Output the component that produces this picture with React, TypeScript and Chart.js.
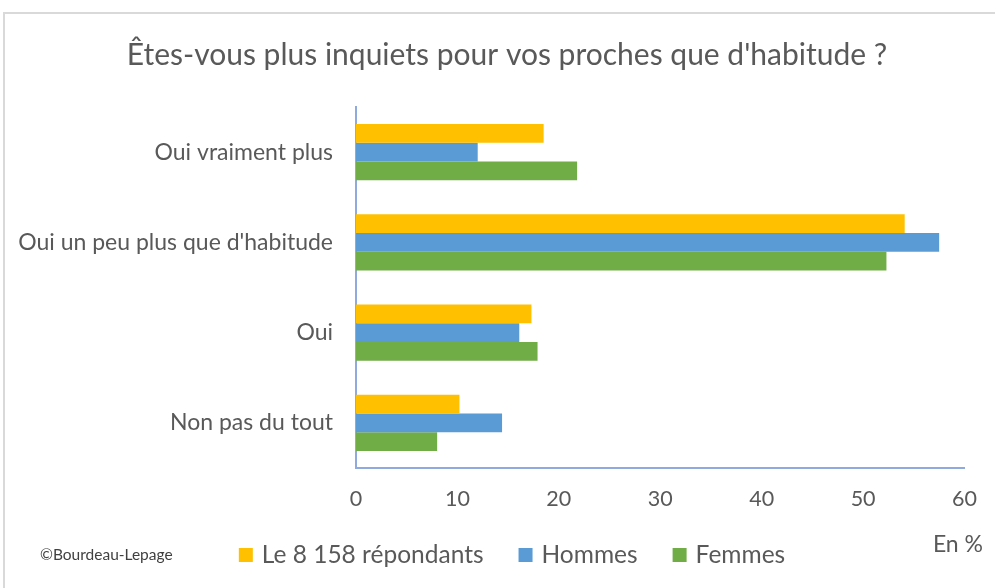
import React, { useEffect, useRef } from "react";
import { Chart, registerables } from "chart.js";

Chart.register(...registerables);

const TITLE = "Êtes-vous plus inquiets pour vos proches que d'habitude ?";
const categories = [
  "Oui vraiment plus",
  "Oui un peu plus que d'habitude",
  "Oui",
  "Non pas du tout",
];
const seriesNames = ["Le 8 158 répondants", "Hommes", "Femmes"];
const totalValues = [18.5, 54.1, 17.3, 10.2];
const hommesValues = [12.0, 57.5, 16.1, 14.4];
const femmesValues = [21.8, 52.3, 17.9, 8.0];
const seriesColors = ["#FFC000", "#5B9BD5", "#70AD47"];
const xMin = 0;
const xMax = 60;
const xStep = 10;
const UNIT = "En %";
const CREDIT = "©Bourdeau-Lepage";

const FONT = "Lato, 'Open Sans', sans-serif";
const TEXT = "#595959";
const AXIS = "#8FAADC";

const decor = {
  id: "decor",
  beforeDraw(chart: any) {
    const ctx = chart.ctx;
    ctx.save();
    ctx.strokeStyle = "#D9D9D9";
    ctx.lineWidth = 2;
    ctx.strokeRect(4, 13, 1200, 1200);
    ctx.restore();
  },
  afterDraw(chart: any) {
    const ctx = chart.ctx;
    ctx.save();
    // title
    ctx.fillStyle = TEXT;
    ctx.font = `30px ${FONT}`;
    ctx.textAlign = "center";
    ctx.textBaseline = "middle";
    ctx.fillText(TITLE, 507, 55);

    // legend
    ctx.font = `24.5px ${FONT}`;
    const box = 14;
    const gapBox = 9;
    const gapItem = 35;
    const ds = chart.data.datasets;
    const widths = ds.map((d: any) => box + gapBox + ctx.measureText(d.label).width);
    const total = widths.reduce((a: number, b: number) => a + b, 0) + gapItem * (ds.length - 1);
    let x = 512 - total / 2;
    const ly = 555;
    ctx.textAlign = "left";
    ds.forEach((d: any, i: number) => {
      ctx.fillStyle = d.backgroundColor;
      ctx.fillRect(x, ly - box / 2, box, box);
      ctx.fillStyle = TEXT;
      ctx.fillText(d.label, x + box + gapBox, ly);
      x += widths[i] + gapItem;
    });

    // unit
    ctx.font = `23px ${FONT}`;
    ctx.textAlign = "right";
    ctx.fillText(UNIT, 983, 545);

    // credit
    ctx.font = `15.5px ${FONT}`;
    ctx.fillStyle = "#404040";
    ctx.textAlign = "left";
    ctx.fillText(CREDIT, 40, 555);
    ctx.restore();
  },
};

export default function App() {
  const ref = useRef<HTMLCanvasElement>(null);
  useEffect(() => {
    document.body.style.margin = "0";
    const canvas = ref.current!;
    const valuesList = [totalValues, hommesValues, femmesValues];
    const chart = new Chart(canvas, {
      type: "bar",
      data: {
        labels: categories,
        datasets: seriesNames.map((name, i) => ({
          label: name,
          data: valuesList[i],
          backgroundColor: seriesColors[i],
          borderWidth: 0,
          categoryPercentage: 0.625,
          barPercentage: 1,
        })),
      },
      options: {
        indexAxis: "y",
        responsive: false,
        animation: false,
        devicePixelRatio: 1,
        layout: { padding: { top: 107, right: 29, bottom: 70, left: 0 } },
        plugins: {
          legend: { display: false },
          title: { display: false },
          tooltip: { enabled: false },
        },
        scales: {
          x: {
            min: xMin,
            max: xMax,
            grid: { display: false, drawTicks: false },
            border: { display: true, color: AXIS, width: 2 },
            ticks: {
              stepSize: xStep,
              color: TEXT,
              font: { family: FONT, size: 21.5 },
              padding: 18,
            },
            afterFit: (s: any) => {
              s.height = 50;
            },
          },
          y: {
            grid: { display: false, drawTicks: false },
            border: { display: true, color: AXIS, width: 2 },
            ticks: {
              color: TEXT,
              font: { family: FONT, size: 23 },
              padding: 23,
            },
            afterFit: (s: any) => {
              s.width = 356;
            },
          },
        },
      },
      plugins: [decor],
    });
    return () => chart.destroy();
  }, []);
  return (
    <div style={{ width: 995, height: 588 }}>
      <canvas ref={ref} width={995} height={588} />
    </div>
  );
}
